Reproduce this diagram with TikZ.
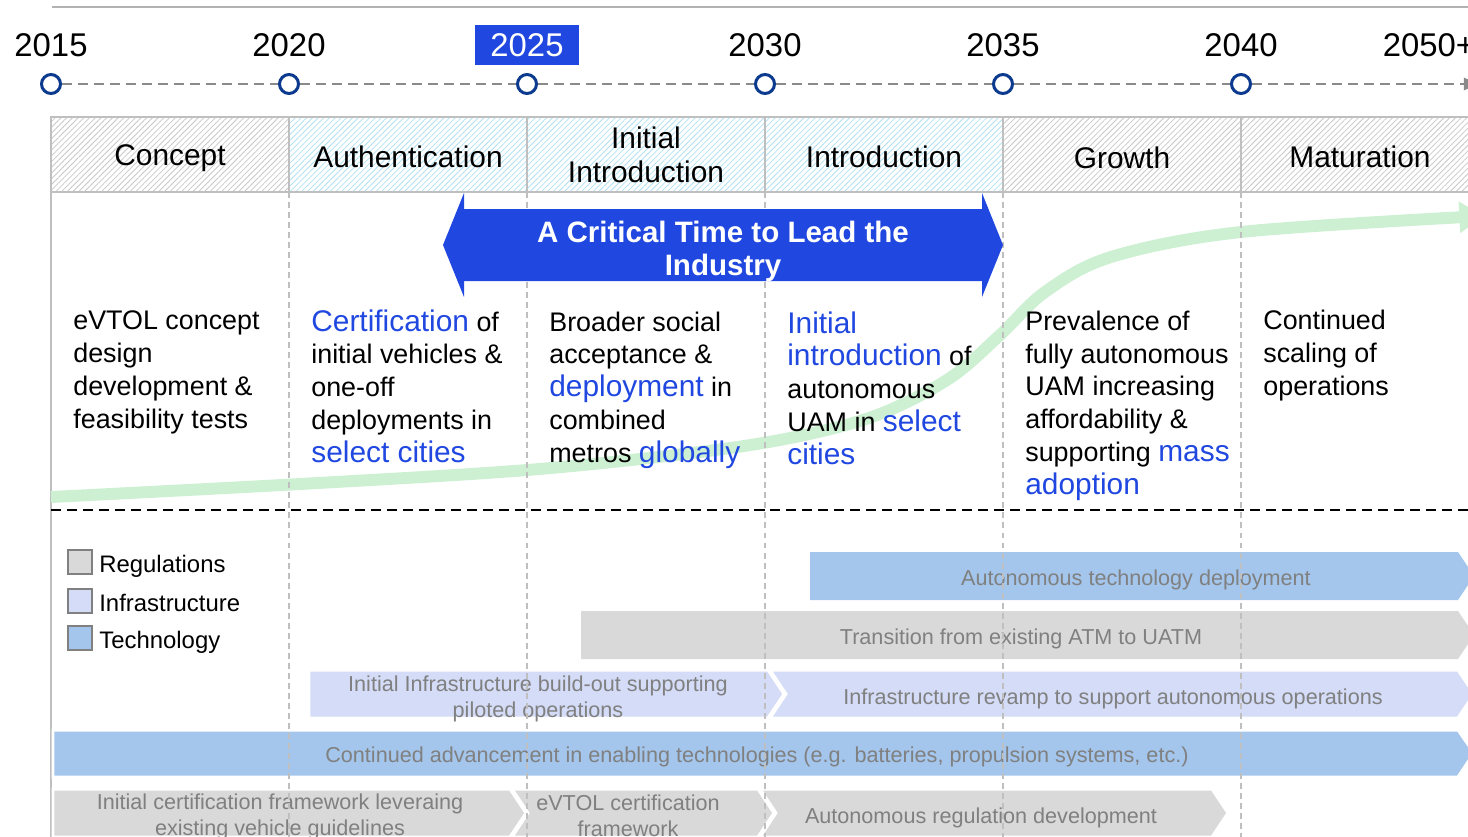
\documentclass[tikz,border=0pt]{standalone}
\usepackage{fontspec}
\setmainfont{Liberation Sans}
\usetikzlibrary{arrows.meta,patterns.meta}

\definecolor{leadblue}{RGB}{32,72,224}
\definecolor{navy}{RGB}{12,58,142}
\definecolor{tlgray}{RGB}{138,138,138}
\definecolor{regcol}{RGB}{217,217,217}
\definecolor{infcol}{RGB}{212,220,247}
\definecolor{techcol}{RGB}{164,198,236}
\definecolor{growcol}{RGB}{205,240,211}
\definecolor{hatchgray}{RGB}{200,200,200}
\definecolor{hatchblue}{RGB}{178,224,242}
\definecolor{bartxt}{RGB}{128,128,128}

\newcommand\hiword[1]{{\color{leadblue}\fontsize{17}{18.6}\selectfont #1}}

\tikzset{
    yearlbl/.style={font=\fontsize{18.7}{21}\selectfont, inner sep=0pt},
    tick/.style={circle, draw=navy, line width=1.7pt, fill=white, minimum size=0.38cm, inner sep=0pt},
    timeline/.style={draw=tlgray, line width=1.1pt, dash pattern=on 5.7pt off 3.4pt},
    cellline/.style={draw=gray!50, line width=0.85pt},
    colsep/.style={draw=gray!50, line width=0.6pt, dash pattern=on 3.4pt off 2.3pt},
    phaselbl/.style={font=\fontsize{17}{19.4}\selectfont, align=center},
    desc/.style={font=\fontsize{15.3}{18.6}\selectfont, align=left, anchor=base west, inner sep=0pt},
    growth/.style={draw=growcol, line width=6.8pt, -{Triangle[length=14pt,width=17pt]}},
    legbox/.style={draw=gray, line width=0.85pt},
    legtext/.style={font=\fontsize{13.6}{16}\selectfont, anchor=base west, inner sep=0pt},
    bar/.style={draw=white, line width=1.7pt},
    bartext/.style={text=bartxt, font=\fontsize{12.3}{14.7}\selectfont, align=center}
}

\begin{document}
\begin{tikzpicture}[x=0.02cm, y=-0.02cm]
    \useasboundingbox (0,0) rectangle (1468,836);
    \clip (0,0) rectangle (1468,836);

    \draw[gray!60, line width=1.1pt] (52,7) -- (1470,7);

    \foreach \yr [count=\i from 0] in {2015,2020,2025,2030,2035,2040}
        \node[tick] (t\i) at ({51+238*\i},84) {};
    \foreach \a/\b in {0/1,1/2,2/3,3/4,4/5}
        \draw[timeline] (t\a) -- (t\b);
    \coordinate (tend) at (1478,84);
    \draw[timeline, -{Triangle[length=8pt,width=7pt]}] (t5) -- (tend);

    \foreach \yr/\x [count=\i] in {2015/51, 2020/289, 2030/765, 2035/1003, 2040/1241, 2050+/1429}
        \node[yearlbl] (yr\i) at (\x,45) {\yr};
    \node[yearlbl, fill=leadblue, text=white, minimum width=2.1cm, minimum height=0.8cm] (yrnow) at (527,45) {2025};

    \foreach \lbl/\hc/\ty [count=\i from 0] in {Concept/hatchgray/158, Authentication/hatchblue/157, {Initial\\Introduction}/hatchblue/155, Introduction/hatchblue/157, Growth/hatchgray/158, Maturation/hatchgray/157} {
        \fill[pattern={Lines[angle=45,distance=2.3pt,line width=0.45pt]}, pattern color=\hc] ({51+238*\i},117) rectangle ++(238,75);
        \draw[cellline] ({51+238*\i},117) rectangle ++(238,75);
        \node[phaselbl] (ph\i) at ({170+238*\i},\ty) {\lbl};
    }

    \draw[cellline] (51,192) -- (51,840);

    \fill[techcol] (810,552) -- (1458,552) -- (1474,576) -- (1458,600) -- (810,600) -- cycle;
    \fill[regcol] (581,611) -- (1458,611) -- (1474,635) -- (1458,659) -- (581,659) -- cycle;
    \draw[bar, fill=infcol] (309,670) -- (768,670) -- (784,694) -- (768,718) -- (309,718) -- cycle;
    \draw[bar, fill=infcol] (770,670) -- (1458,670) -- (1474,694) -- (1458,718) -- (770,718) -- (786,694) -- cycle;
    \draw[bar, fill=techcol] (53,730) -- (1458,730) -- (1474,753) -- (1458,777) -- (53,777) -- cycle;
    \draw[bar, fill=regcol] (53,789) -- (510,789) -- (526,813) -- (510,837) -- (53,837) -- cycle;
    \draw[bar, fill=regcol] (512,789) -- (758,789) -- (774,813) -- (758,837) -- (512,837) -- (528,813) -- cycle;
    \draw[bar, fill=regcol] (760,789) -- (1212,789) -- (1228,813) -- (1212,837) -- (760,837) -- (776,813) -- cycle;

    \node[bartext] (autotech) at (1136,580) {Autonomous technology deployment};
    \node[bartext] (atm) at (1021,639) {Transition from existing ATM to UATM};
    \node[bartext] (infrafirst) at (538,699) {Initial Infrastructure build-out supporting\\piloted operations};
    \node[bartext] (infranext) at (1113,699) {Infrastructure revamp to support autonomous operations};
    \node[bartext] (enabling) at (757,757) {Continued advancement in enabling technologies (e.g. batteries, propulsion systems, etc.)};
    \node[bartext] (certfirst) at (280,817) {Initial certification framework leveraing\\existing vehicle guidelines};
    \node[bartext] (certevtol) at (628,816) {eVTOL certification\\framework};
    \node[bartext] (regauto) at (981,818) {Autonomous regulation development};

    \draw[growth] plot[smooth, tension=0.55] coordinates {(51,497) (300,484) (527,470) (700,452) (800,436) (880,414) (950,378) (1000,335) (1045,292) (1111,257) (1241,232) (1484,216)};

    \foreach \x in {289,527,765,1003,1241}
        \draw[colsep] (\x,192) -- (\x,840);

    \fill[leadblue] (443,245) -- (464,193) -- (464,209) -- (982,209) -- (982,193) -- (1003,245) -- (982,297) -- (982,281) -- (464,281) -- (464,297) -- cycle;
    \node[font=\bfseries\fontsize{16.8}{18.7}\selectfont, text=white, align=center] (lead) at (723,251) {A Critical Time to Lead the\\Industry};

    \draw[black, line width=1.4pt, dash pattern=on 5.7pt off 3.4pt] (51,510) -- (1470,510);

    \node[desc] (d1) at (73,428) {eVTOL concept\\design\\development \&\\feasibility tests};
    \node[desc] (d2) at (311,462) {\hiword{Certification} of\\initial vehicles \&\\one-off\\deployments in\\\hiword{select cities}};
    \node[desc] (d3) at (549,462) {Broader social\\acceptance \&\\\hiword{deployment} in\\combined\\metros \hiword{globally}};
    \node[desc] (d4) at (787,464) {\hiword{Initial}\\\hiword{introduction} of\\autonomous\\UAM in \hiword{select}\\\hiword{cities}};
    \node[desc] (d5) at (1025,494) {Prevalence of\\fully autonomous\\UAM increasing\\affordability \&\\supporting \hiword{mass}\\\hiword{adoption}};
    \node[desc] (d6) at (1263,395) {Continued\\scaling of\\operations};

    \foreach \lbl/\c/\y in {Regulations/regcol/550, Infrastructure/infcol/589, Technology/techcol/626} {
        \draw[legbox, fill=\c] (68,\y) rectangle ++(24,24);
        \node[legtext] (leg\lbl) at (99,\y+22) {\lbl};
    }
\end{tikzpicture}
\end{document}
